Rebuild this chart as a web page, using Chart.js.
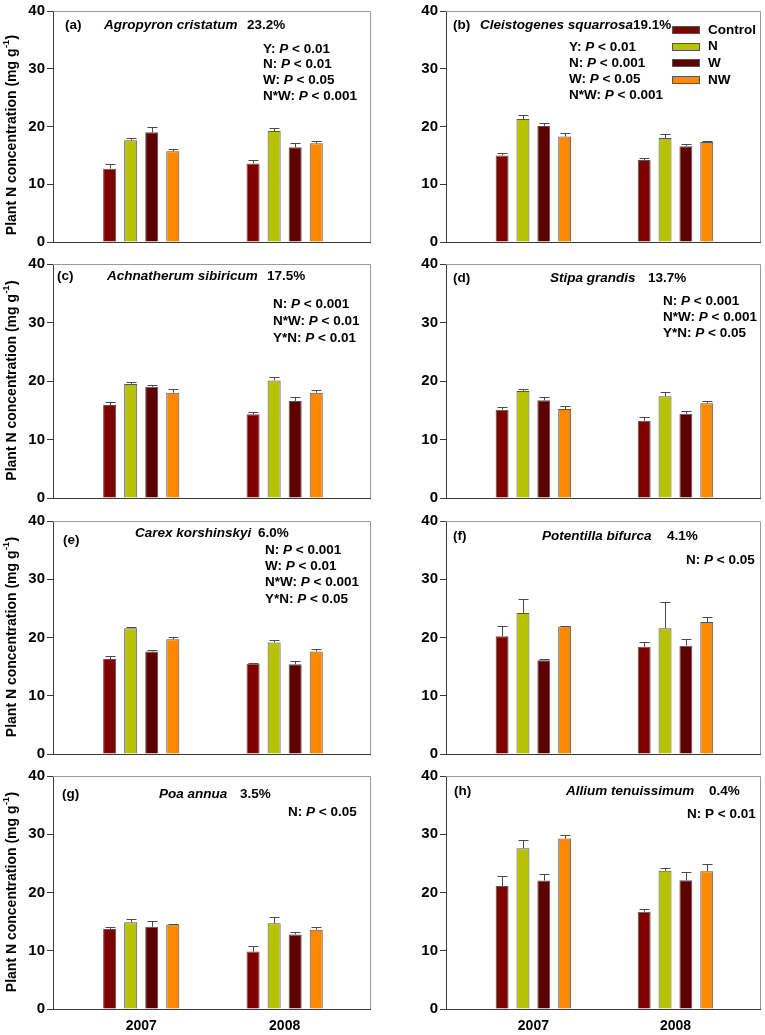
<!DOCTYPE html>
<html>
<head>
<meta charset="utf-8">
<script src="https://cdn.jsdelivr.net/npm/chart.js@4.4.1/dist/chart.umd.min.js"></script>
<style>
  html, body { margin: 0; padding: 0; background: #fff; }
  #wrap { position: relative; width: 765px; height: 1035px; overflow: hidden; }
  #wrap canvas { position: absolute; }
</style>
</head>
<body>
<div id="wrap"></div>
<script>
// Categories / series
const years = [2007, 2008];
const treatments = ['Control', 'N', 'W', 'NW'];
const barColors = ['#7f0000', '#b7c300', '#5e0000', '#ff8800'];
const yTicks = [0, 10, 20, 30, 40];

// Panel texts
const panelTags = ['(a)', '(b)', '(c)', '(d)', '(e)', '(f)', '(g)', '(h)'];
const speciesNames = ['Agropyron cristatum', 'Cleistogenes squarrosa', 'Achnatherum sibiricum', 'Stipa grandis',
  'Carex korshinskyi', 'Potentilla bifurca', 'Poa annua', 'Allium tenuissimum'];
const speciesShare = ['23.2%', '19.1%', '17.5%', '13.7%', '6.0%', '4.1%', '3.5%', '0.4%'];
const statLines = [
  ['Y: P < 0.01', 'N: P < 0.01', 'W: P < 0.05', 'N*W: P < 0.001'],
  ['Y: P < 0.01', 'N: P < 0.001', 'W: P < 0.05', 'N*W: P < 0.001'],
  ['N: P < 0.001', 'N*W: P < 0.01', 'Y*N: P < 0.01'],
  ['N: P < 0.001', 'N*W: P < 0.001', 'Y*N: P < 0.05'],
  ['N: P < 0.001', 'W: P < 0.01', 'N*W: P < 0.001', 'Y*N: P < 0.05'],
  ['N: P < 0.05'],
  ['N: P < 0.05'],
  ['N: P < 0.01']
];
const italicP = [true, true, true, true, true, true, true, false];

// Means and standard errors, rows = Control, N, W, NW; columns = 2007, 2008
const meanA = [[12.7, 13.6], [17.6, 19.2], [19.0, 16.4], [15.7, 17.1]];
const errA  = [[0.8, 0.6], [0.45, 0.5], [0.9, 0.7], [0.4, 0.4]];
const meanB = [[15.0, 14.2], [21.3, 18.0], [20.1, 16.6], [18.25, 17.3]];
const errB  = [[0.4, 0.35], [0.7, 0.65], [0.45, 0.35], [0.55, 0.2]];
const meanC = [[15.9, 14.3], [19.5, 20.1], [19.0, 16.6], [18.0, 18.0]];
const errC  = [[0.5, 0.4], [0.4, 0.5], [0.3, 0.6], [0.6, 0.4]];
const meanD = [[15.1, 13.2], [18.3, 17.4], [16.7, 14.4], [15.2, 16.2]];
const errD  = [[0.4, 0.6], [0.4, 0.8], [0.65, 0.5], [0.45, 0.45]];
const meanE = [[16.3, 15.5], [21.6, 19.15], [17.6, 15.4], [19.7, 17.6]];
const errE  = [[0.45, 0.1], [0.2, 0.4], [0.2, 0.55], [0.45, 0.35]];
const meanF = [[20.2, 18.4], [24.2, 21.6], [16.1, 18.6], [21.9, 22.65]];
const errF  = [[1.85, 0.85], [2.4, 4.45], [0.15, 1.2], [0.1, 0.95]];
const meanG = [[13.75, 9.85], [14.9, 14.7], [14.1, 12.8], [14.5, 13.6]];
const errG  = [[0.3, 1.05], [0.55, 1.15], [0.95, 0.35], [0.15, 0.45]];
const meanH = [[21.1, 16.7], [27.6, 23.75], [22.05, 22.1], [29.25, 23.65]];
const errH  = [[1.75, 0.5], [1.35, 0.4], [1.1, 1.35], [0.55, 1.2]];

const allMeans = [meanA, meanB, meanC, meanD, meanE, meanF, meanG, meanH];
const allErrs = [errA, errB, errC, errD, errE, errF, errG, errH];

// Canvas placement per row/column
const colBox = [
  { left: 0, width: 382, yWidth: 53, padRight: 12 },
  { left: 382, width: 383, yWidth: 64, padRight: 5 }
];
const rowBox = [
  { top: 0, height: 253, padTop: 7, xHeight: 10, titleShift: 9 },
  { top: 253, height: 257, padTop: 10, xHeight: 12, titleShift: 0 },
  { top: 510, height: 255, padTop: 9, xHeight: 10, titleShift: 0 },
  { top: 765, height: 270, padTop: 9, xHeight: 26, titleShift: 0 }
];

// Text spots, offsets from chart area left/top
const textSpots = [
  { tag: [12, 14], sp: [51, 14], share: 194, st: [210, 38], gap: 15.6 },
  { tag: [7, 14], sp: [34, 14], share: 187, st: [123, 36], gap: 16 },
  { tag: [4, 12], sp: [54, 12], share: 214, st: [220, 40], gap: 17 },
  { tag: [7, 14], sp: [104, 14], share: 202, st: [217, 37], gap: 16 },
  { tag: [10, 19], sp: [82, 12], share: 205, st: [212, 29], gap: 16.3 },
  { tag: [7, 15], sp: [96, 15], share: 221, st: [240, 39], gap: 16 },
  { tag: [9, 18], sp: [106, 18], share: 187, st: [235, 36], gap: 16 },
  { tag: [8, 15], sp: [120, 15], share: 263, st: [241, 38], gap: 16 }
];

const FONT = '"Liberation Sans", Arial, sans-serif';

function drawStat(ctx, line, x, y, useItalic) {
  const k = line.indexOf('P');
  const parts = [[line.slice(0, k), false], ['P', useItalic], [line.slice(k + 1), false]];
  let cx = x;
  parts.forEach(([t, it]) => {
    ctx.font = (it ? 'italic ' : '') + 'bold 13.5px ' + FONT;
    ctx.fillText(t, cx, y);
    cx += ctx.measureText(t).width;
  });
}

const panelDecor = {
  id: 'panelDecor',
  afterDatasetsDraw(chart) {
    const ctx = chart.ctx;
    const yScale = chart.scales.y;
    ctx.save();
    ctx.strokeStyle = '#4a4a4a';
    ctx.lineWidth = 1;
    chart.data.datasets.forEach((ds, i) => {
      chart.getDatasetMeta(i).data.forEach((bar, j) => {
        const top = Math.round(yScale.getPixelForValue(ds.data[j] + ds.errors[j])) + 0.5;
        const x = Math.round(bar.x) + 0.5;
        ctx.beginPath();
        ctx.moveTo(x, bar.y);
        ctx.lineTo(x, top);
        ctx.moveTo(x - 5, top);
        ctx.lineTo(x + 5, top);
        ctx.stroke();
      });
    });
    ctx.restore();
  },
  afterDraw(chart, args, opts) {
    const p = opts.panel;
    const ctx = chart.ctx;
    const a = chart.chartArea;
    const s = textSpots[p];
    ctx.save();
    // top and right frame lines
    ctx.strokeStyle = '#9a9a9a';
    ctx.lineWidth = 1;
    ctx.beginPath();
    ctx.moveTo(a.left, a.top + 0.5);
    ctx.lineTo(Math.round(a.right) + 0.5, a.top + 0.5);
    ctx.lineTo(Math.round(a.right) + 0.5, a.bottom);
    ctx.stroke();

    ctx.fillStyle = '#000';
    ctx.textBaseline = 'middle';
    ctx.textAlign = 'left';
    ctx.font = 'bold 13.5px ' + FONT;
    ctx.fillText(panelTags[p], a.left + s.tag[0], a.top + s.tag[1]);
    ctx.font = 'italic bold 13.5px ' + FONT;
    ctx.fillText(speciesNames[p], a.left + s.sp[0], a.top + s.sp[1]);
    ctx.font = 'bold 13.5px ' + FONT;
    ctx.fillText(speciesShare[p], a.left + s.share, a.top + s.sp[1]);
    statLines[p].forEach((line, i) => {
      drawStat(ctx, line, a.left + s.st[0], a.top + s.st[1] + i * s.gap, italicP[p]);
    });

    // legend (panel b)
    if (p === 1) {
      treatments.forEach((t, i) => {
        const ly = a.top + 19 + i * 16.7;
        ctx.fillStyle = barColors[i];
        ctx.fillRect(a.left + 226, Math.round(ly - 4), 28, 8);
        ctx.strokeStyle = '#555';
        ctx.strokeRect(a.left + 226.5, Math.round(ly - 4) + 0.5, 27, 7);
        ctx.fillStyle = '#000';
        ctx.font = 'bold 13.5px ' + FONT;
        ctx.fillText(t, a.left + 262, ly);
      });
    }

    // y axis title (left column only)
    if (p % 2 === 0) {
      const r = rowBox[Math.floor(p / 2)];
      const cy = (a.top + a.bottom) / 2 + r.titleShift;
      ctx.translate(12, cy);
      ctx.rotate(-Math.PI / 2);
      const main = 'Plant N concentration (mg g';
      const sup = '-1';
      const close = ')';
      ctx.font = 'bold 14px ' + FONT;
      const w1 = ctx.measureText(main).width;
      const w3 = ctx.measureText(close).width;
      ctx.font = 'bold 9px ' + FONT;
      const w2 = ctx.measureText(sup).width;
      let x0 = -(w1 + w2 + w3) / 2;
      ctx.font = 'bold 14px ' + FONT;
      ctx.fillText(main, x0, 0);
      ctx.font = 'bold 9px ' + FONT;
      ctx.fillText(sup, x0 + w1 + 0.5, -5);
      ctx.font = 'bold 14px ' + FONT;
      ctx.fillText(close, x0 + w1 + w2 + 1, 0);
    }
    ctx.restore();
  }
};

const wrap = document.getElementById('wrap');

allMeans.forEach((means, p) => {
  const col = colBox[p % 2];
  const row = rowBox[Math.floor(p / 2)];
  const bottomRow = Math.floor(p / 2) === 3;

  const canvas = document.createElement('canvas');
  canvas.width = col.width;
  canvas.height = row.height;
  canvas.style.left = col.left + 'px';
  canvas.style.top = row.top + 'px';
  canvas.style.width = col.width + 'px';
  canvas.style.height = row.height + 'px';
  wrap.appendChild(canvas);

  new Chart(canvas.getContext('2d'), {
    type: 'bar',
    data: {
      labels: years,
      datasets: treatments.map((t, i) => ({
        label: t,
        data: means[i],
        errors: allErrs[p][i],
        backgroundColor: barColors[i],
        borderColor: '#555',
        borderWidth: 1,
        barPercentage: 0.62,
        categoryPercentage: 0.587
      }))
    },
    options: {
      responsive: false,
      animation: false,
      events: [],
      devicePixelRatio: 1,
      layout: { padding: { top: row.padTop, right: col.padRight, left: 0, bottom: 0 } },
      plugins: {
        legend: { display: false },
        tooltip: { enabled: false },
        panelDecor: { panel: p }
      },
      scales: {
        x: {
          type: 'linear',
          min: 2006.385,
          max: 2008.595,
          offset: false,
          afterBuildTicks: (scale) => { scale.ticks = years.map(v => ({ value: v })); },
          afterFit: (scale) => { scale.height = row.xHeight; },
          grid: { display: false, drawTicks: false, offset: false },
          border: { display: true, color: '#3a3a3a', width: 1 },
          ticks: {
            display: bottomRow,
            padding: 9,
            color: '#000',
            font: { family: FONT, size: 14, weight: 'bold' },
            callback: (v) => String(v)
          }
        },
        y: {
          min: 0,
          max: 40,
          afterBuildTicks: (scale) => { scale.ticks = yTicks.map(v => ({ value: v })); },
          afterFit: (scale) => { scale.width = col.yWidth; },
          grid: { drawOnChartArea: false, drawTicks: true, tickLength: 6, tickColor: '#3a3a3a' },
          border: { display: true, color: '#3a3a3a', width: 1 },
          ticks: {
            padding: 2,
            color: '#000',
            font: { family: FONT, size: 15, weight: 'bold' }
          }
        }
      }
    },
    plugins: [panelDecor]
  });
});
</script>
</body>
</html>
